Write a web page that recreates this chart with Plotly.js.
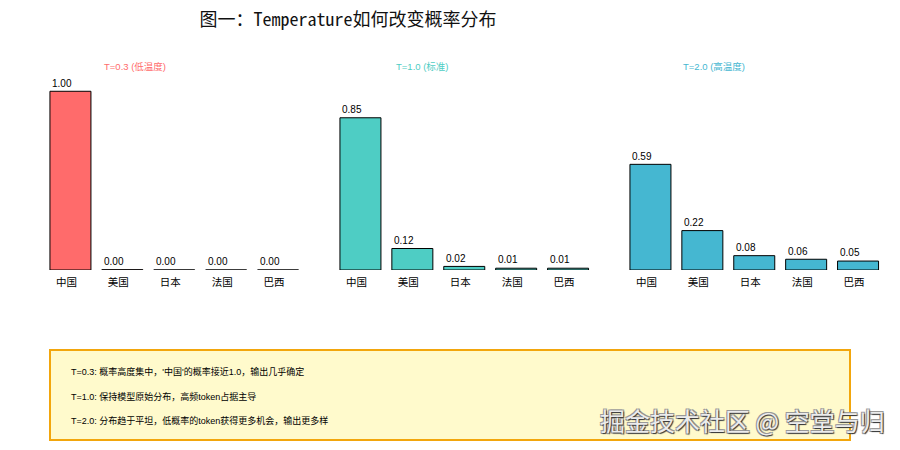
<!DOCTYPE html>
<html>
<head>
<meta charset="utf-8">
<script src="https://cdn.plot.ly/plotly-3.0.1.min.js"></script>
<style>html,body{margin:0;padding:0;background:#fff;}#chart{width:900px;height:450px;}</style>
</head>
<body>
<div id="chart"></div>
<script>
const categories = ["中国", "美国", "日本", "法国", "巴西"];
const probsT03 = [0.998, 0.0015, 0.0003, 0.0001, 0.0001];
const probsT10 = [0.85, 0.12, 0.02, 0.01, 0.01];
const probsT20 = [0.59, 0.22, 0.08, 0.06, 0.05];
const panelTitles = ["T=0.3 (低温度)", "T=1.0 (标准)", "T=2.0 (高温度)"];
const panelColors = ["#FF6B6B", "#4ECDC4", "#45B7D1"];
const chartTitle = "图一：Temperature如何改变概率分布";
const noteLines = [
  "T=0.3: 概率高度集中，'中国'的概率接近1.0，输出几乎确定",
  "T=1.0: 保持模型原始分布，高频token占据主导",
  "T=2.0: 分布趋于平坦，低概率的token获得更多机会，输出更多样"
];
const watermark = "掘金技术社区 @ 空堂与归";

const series = [probsT03, probsT10, probsT20];
const W = 900, H = 450;
const xDomains = [[44.5 / W, 304 / W], [334.5 / W, 594 / W], [624.5 / W, 884 / W]];
const yDomain = [1 - 270 / H, 1 - 73 / H];
const titleCentersPx = [135, 422, 714];

const cjk = "Liberation Sans, Arial, Noto Sans CJK SC, sans-serif";
const data = [];
const annotations = [];
const layout = {
  width: W, height: H,
  margin: {l: 0, r: 0, t: 0, b: 0},
  paper_bgcolor: "#ffffff",
  plot_bgcolor: "rgba(0,0,0,0)",
  showlegend: false,
  bargap: 0.21,
  font: {family: cjk, size: 10, color: "#000"},
  title: {
    text: chartTitle,
    x: 348 / W, xanchor: "center", xref: "paper",
    y: 1 - 20 / H, yanchor: "middle", yref: "container",
    font: {family: "Noto Sans Mono CJK SC, Noto Sans CJK SC, DejaVu Sans Mono, monospace", size: 18, color: "#111"}
  },
  shapes: [{
    type: "rect", xref: "paper", yref: "paper",
    x0: 50 / W, x1: 850 / W, y0: 1 - 440 / H, y1: 1 - 350 / H,
    fillcolor: "#FFFACC", line: {color: "#F2A60C", width: 2}, layer: "below"
  }],
  annotations: annotations
};

series.forEach((vals, k) => {
  const sx = k === 0 ? "" : String(k + 1);
  data.push({
    type: "bar",
    x: categories, y: vals,
    xaxis: "x" + sx, yaxis: "y" + sx,
    marker: {color: panelColors[k], line: {color: "#000", width: 1}},
    hoverinfo: "skip"
  });
  layout["xaxis" + sx] = {
    domain: xDomains[k], anchor: "y" + sx,
    type: "category", range: [-0.5, 4.5],
    showline: false, showgrid: false, zeroline: false, ticks: "",
    ticklabelstandoff: 4, ticklabelshift: -4,
    tickfont: {size: 10.5, family: "Noto Sans CJK SC, sans-serif", color: "#000"}
  };
  layout["yaxis" + sx] = {
    domain: yDomain, anchor: "x" + sx, range: [0, 1.1], visible: false
  };
  vals.forEach((v, i) => {
    annotations.push({
      xref: "x" + sx, yref: "y" + sx,
      x: i - 0.395, y: v + 0.004,
      xanchor: "left", yanchor: "bottom",
      text: v.toFixed(2), showarrow: false,
      font: {size: 10, color: "#000", family: cjk}
    });
  });
  annotations.push({
    xref: "paper", yref: "paper",
    x: titleCentersPx[k] / W, y: 1 - 66 / H,
    xanchor: "center", yanchor: "middle",
    text: panelTitles[k], showarrow: false,
    font: {size: 9.5, color: panelColors[k], family: cjk}
  });
});

const lineYs = [371, 396, 420];
noteLines.forEach((t, i) => {
  annotations.push({
    xref: "paper", yref: "paper",
    x: 69 / W, y: 1 - lineYs[i] / H,
    xanchor: "left", yanchor: "middle", align: "left",
    text: t, showarrow: false,
    font: {size: 9, color: "#000", family: cjk}
  });
});

annotations.push({
  xref: "paper", yref: "paper",
  x: 887 / W, y: 1 - 420 / H,
  xanchor: "right", yanchor: "middle",
  text: watermark, showarrow: false,
  font: {size: 25, color: "#ececec", family: "Noto Sans CJK SC, sans-serif",
         shadow: "1px 1px 1px #333, -1px -1px 0px #999, 1px -1px 0px #999, -1px 1px 0px #999"}
});

Plotly.newPlot("chart", data, layout, {displayModeBar: false, staticPlot: true});
</script>
</body>
</html>
